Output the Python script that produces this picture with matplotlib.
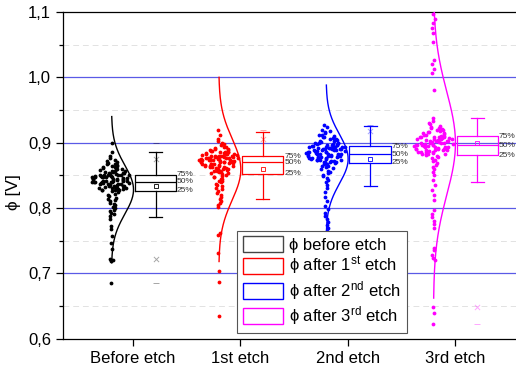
import numpy as np
import matplotlib.pyplot as plt
from matplotlib.patches import Patch
from matplotlib.ticker import FuncFormatter, MultipleLocator

plt.rcParams['font.family'] = ['Liberation Sans', 'DejaVu Sans']
plt.rcParams['mathtext.default'] = 'regular'

# categories / positions
categories = ['Before etch', '1st etch', '2nd etch', '3rd etch']
legend_labels = ['\u03d5 before etch', '\u03d5 after 1$^{st}$ etch',
                 '\u03d5 after 2$^{nd}$ etch', '\u03d5 after 3$^{rd}$ etch']
colors = ['black', 'red', 'blue', 'magenta']

phi_before = [0.685, 0.719, 0.720, 0.721, 0.722, 0.737, 0.746, 0.757, 0.768, 0.773,
              0.783, 0.788, 0.790, 0.792, 0.795, 0.797,
              0.800, 0.802, 0.804, 0.806, 0.808, 0.810, 0.812, 0.814, 0.816, 0.818,
              0.820, 0.822, 0.824, 0.826,
              0.827, 0.827, 0.828, 0.828, 0.829, 0.829, 0.830, 0.830, 0.831, 0.831,
              0.832, 0.832, 0.833, 0.833, 0.834, 0.834, 0.835, 0.835, 0.836, 0.836,
              0.837, 0.837, 0.838, 0.838, 0.838, 0.839, 0.839, 0.839, 0.840, 0.840,
              0.840, 0.841, 0.841, 0.842, 0.842, 0.842, 0.843, 0.843, 0.844, 0.844,
              0.845, 0.845, 0.845, 0.846, 0.846, 0.847, 0.847, 0.847, 0.848, 0.848,
              0.848, 0.849, 0.849, 0.849, 0.850, 0.850, 0.850, 0.851, 0.851, 0.851,
              0.852, 0.852, 0.853, 0.853, 0.854, 0.855, 0.855, 0.856, 0.857, 0.857,
              0.858, 0.859, 0.860, 0.860, 0.861, 0.862, 0.863, 0.864, 0.865, 0.866,
              0.867, 0.868, 0.869, 0.870, 0.872, 0.874, 0.876, 0.880, 0.885, 0.900]
phi_1st = [0.634, 0.687, 0.704, 0.731, 0.758, 0.762, 0.802, 0.805, 0.808, 0.811,
           0.814, 0.817, 0.820, 0.823, 0.826, 0.829, 0.831, 0.833, 0.835, 0.837,
           0.839, 0.841, 0.842, 0.844, 0.845, 0.847, 0.848, 0.849, 0.851, 0.852,
           0.853, 0.854, 0.855, 0.855, 0.856, 0.857, 0.857, 0.858, 0.859, 0.859,
           0.860, 0.861, 0.861, 0.862, 0.863, 0.863, 0.864, 0.864, 0.865, 0.865,
           0.866, 0.866, 0.867, 0.867, 0.868, 0.868, 0.869, 0.869, 0.870, 0.870,
           0.870, 0.871, 0.871, 0.871, 0.872, 0.872, 0.872, 0.873, 0.873, 0.873,
           0.874, 0.874, 0.874, 0.875, 0.875, 0.875, 0.876, 0.876, 0.876, 0.877,
           0.877, 0.877, 0.878, 0.878, 0.878, 0.878, 0.879, 0.879, 0.879, 0.879,
           0.880, 0.880, 0.881, 0.881, 0.882, 0.882, 0.883, 0.883, 0.884, 0.884,
           0.885, 0.885, 0.886, 0.886, 0.887, 0.887, 0.888, 0.889, 0.890, 0.891,
           0.892, 0.893, 0.894, 0.896, 0.898, 0.900, 0.903, 0.906, 0.912, 0.919]
phi_2nd = [0.761, 0.765, 0.770, 0.774, 0.778, 0.783, 0.788, 0.793, 0.798, 0.803,
           0.810, 0.817, 0.824, 0.830, 0.835, 0.839, 0.843, 0.846, 0.849, 0.851,
           0.853, 0.855, 0.857, 0.859, 0.861, 0.862, 0.864, 0.865, 0.867, 0.868,
           0.869, 0.870, 0.870, 0.871, 0.871, 0.872, 0.872, 0.873, 0.873, 0.874,
           0.874, 0.875, 0.875, 0.876, 0.876, 0.877, 0.877, 0.878, 0.878, 0.878,
           0.879, 0.879, 0.880, 0.880, 0.880, 0.881, 0.881, 0.881, 0.882, 0.882,
           0.882, 0.883, 0.883, 0.884, 0.884, 0.885, 0.885, 0.886, 0.886, 0.887,
           0.887, 0.887, 0.888, 0.888, 0.889, 0.889, 0.890, 0.890, 0.890, 0.891,
           0.891, 0.892, 0.892, 0.892, 0.893, 0.893, 0.893, 0.894, 0.894, 0.894,
           0.895, 0.895, 0.896, 0.896, 0.897, 0.897, 0.898, 0.898, 0.899, 0.899,
           0.900, 0.900, 0.901, 0.902, 0.903, 0.904, 0.905, 0.906, 0.907, 0.908,
           0.909, 0.910, 0.911, 0.912, 0.914, 0.916, 0.918, 0.920, 0.924, 0.927]
phi_3rd = [0.622, 0.639, 0.649, 0.720, 0.724, 0.728, 0.735, 0.739, 0.770, 0.775,
           0.780, 0.786, 0.790, 0.797, 0.812, 0.820, 0.828, 0.835, 0.843, 0.850,
           0.855, 0.859, 0.862, 0.866, 0.869, 0.872, 0.874, 0.876, 0.878, 0.880,
           0.881, 0.882, 0.882, 0.883, 0.883, 0.884, 0.885, 0.885, 0.886, 0.886,
           0.887, 0.888, 0.888, 0.889, 0.889, 0.890, 0.890, 0.891, 0.891, 0.892,
           0.892, 0.893, 0.893, 0.894, 0.894, 0.895, 0.895, 0.895, 0.896, 0.896,
           0.896, 0.897, 0.897, 0.898, 0.898, 0.899, 0.899, 0.900, 0.900, 0.901,
           0.901, 0.902, 0.902, 0.903, 0.903, 0.904, 0.904, 0.905, 0.905, 0.906,
           0.906, 0.907, 0.907, 0.908, 0.908, 0.908, 0.909, 0.909, 0.910, 0.910,
           0.911, 0.912, 0.913, 0.914, 0.915, 0.916, 0.917, 0.918, 0.919, 0.920,
           0.921, 0.922, 0.923, 0.924, 0.926, 0.928, 0.930, 0.933, 0.938, 0.980,
           1.006, 1.012, 1.020, 1.026, 1.054, 1.068, 1.075, 1.083, 1.090, 1.097]
groups = [phi_before, phi_1st, phi_2nd, phi_3rd]

# box statistics
q1 = [0.8265, 0.8525, 0.869, 0.881]
med = [0.840, 0.870, 0.882, 0.896]
q3 = [0.851, 0.879, 0.8945, 0.910]
whis_lo = [0.786, 0.813, 0.833, 0.840]
whis_hi = [0.885, 0.917, 0.926, 0.937]
means = [0.833, 0.860, 0.875, 0.899]
p_lo = [0.7215, 0.660, 0.750, 0.648]   # x markers
p_hi = [0.875, 0.906, 0.918, np.nan]
d_min = [0.685, 0.634, 0.740, 0.622]   # - markers
d_max = [0.900, 0.920, 0.927, np.nan]
# normal curves
curve_mu = [0.828, 0.859, 0.875, 0.899]
curve_sd = [0.0373, 0.047, 0.0377, 0.079]

positions = np.arange(1, 5)
fig = plt.figure(figsize=(5.16, 3.75), dpi=100)
ax = fig.add_axes([63 / 516, 1 - 338.6 / 375, 455 / 516, (338.6 - 12) / 375])

ax.set_xlim(0.348, 4.588)
ax.set_ylim(0.6, 1.1)

# grid
for v in [0.7, 0.8, 0.9, 1.0]:
    ax.axhline(v, color='#5a5ae6', lw=0.9, zorder=0)
for v in [0.65, 0.75, 0.85, 0.95, 1.05]:
    ax.axhline(v, color='#e2e2e2', lw=0.7, ls=(0, (6, 4)), zorder=0)

off_pts = -0.2
off_box = 0.21
for i, (vals, c) in enumerate(zip(groups, colors)):
    y = np.array(vals)
    base = positions[i] + off_pts
    # spread points sideways by their local density
    dens = np.exp(-(y[:, None] - y[None, :]) ** 2 / (2 * 0.007 ** 2)).sum(axis=1)
    dens = dens / dens.max()
    k = np.arange(len(y)) + 7 * i
    u = ((k * k * 37 + k * 11) % 127) / 126 * 2 - 1
    ax.scatter(base + u * 0.19 * dens, y, s=7.5, color=c, linewidths=0, zorder=3)

    # normal distribution curve
    yy = np.linspace(curve_mu[i] - 3 * curve_sd[i], curve_mu[i] + 3 * curve_sd[i], 200)
    xx = base + 0.205 * np.exp(-(yy - curve_mu[i]) ** 2 / (2 * curve_sd[i] ** 2))
    ax.plot(xx, yy, color=c, lw=1.0, zorder=4)

    # box
    bx = positions[i] + off_box
    stats = [dict(med=med[i], q1=q1[i], q3=q3[i], whislo=whis_lo[i],
                  whishi=whis_hi[i], mean=means[i], fliers=[])]
    ax.bxp(stats, positions=[bx], widths=0.385, showmeans=True,
           capwidths=[0.12], manage_ticks=False,
           boxprops=dict(color=c, lw=0.9),
           medianprops=dict(color=c, lw=0.9),
           whiskerprops=dict(color=c, lw=0.9),
           capprops=dict(color=c, lw=0.9),
           meanprops=dict(marker='s', markersize=3.5, markerfacecolor='none',
                          markeredgecolor=c, markeredgewidth=0.6))
    ax.scatter([bx, bx], [p_lo[i], p_hi[i]], marker='x', s=14, color=c,
               alpha=0.35, linewidths=0.7, zorder=3)
    ax.scatter([bx, bx], [d_min[i], d_max[i]], marker='_', s=14, color=c,
               alpha=0.35, linewidths=0.7, zorder=3)
    for val, lab in zip([q3[i], med[i], q1[i]], ['75%', '50%', '25%']):
        ax.text(bx + 0.2, val, lab, fontsize=6, va='center', ha='left',
                color='#333333', zorder=5)

# axes styling
ax.set_xticks(positions)
ax.set_xticklabels(categories, fontsize=12)
ax.yaxis.set_major_locator(MultipleLocator(0.1))
ax.yaxis.set_minor_locator(MultipleLocator(0.05))
ax.yaxis.set_major_formatter(FuncFormatter(lambda v, p: f'{v:.1f}'.replace('.', ',')))
ax.tick_params(axis='y', labelsize=12, length=5, width=0.9)
ax.tick_params(axis='y', which='minor', length=3, width=0.9)
ax.tick_params(axis='x', length=5, width=0.9, pad=4)
ax.spines['right'].set_visible(False)
for s in ['left', 'bottom', 'top']:
    ax.spines[s].set_linewidth(0.9)
ax.set_ylabel('\u03d5 [V]', fontsize=12.5)
ax.yaxis.set_label_coords(-0.092, 0.45)

handles = [Patch(facecolor='white', edgecolor=c if c != 'black' else '#444444', lw=1.0)
           for c in colors]
leg = ax.legend(handles, legend_labels, loc='lower left', bbox_to_anchor=(0.382, 0.017),
                borderaxespad=0, fontsize=12, handlelength=2.4, handleheight=1.05,
                handletextpad=0.4, labelspacing=0.12, fancybox=False,
                edgecolor='#555555', framealpha=1, borderpad=0.35)
leg.get_frame().set_linewidth(0.8)
leg.set_zorder(10)

fig.savefig('out.png', dpi=100)
